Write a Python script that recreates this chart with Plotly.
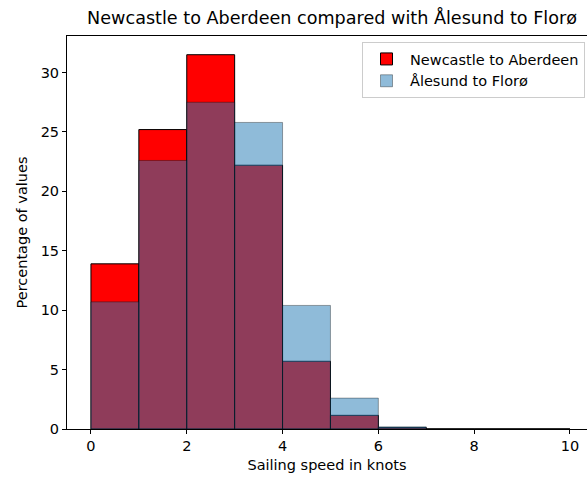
import plotly.graph_objects as go

# Histogram bins (knots) and percentage of values per bin
bin_edges = [0, 1, 2, 3, 4, 5, 6, 7, 8, 9, 10]
newcastle_aberdeen = [13.9, 25.2, 31.5, 22.2, 5.7, 1.15, 0.12, 0, 0, 0]
alesund_floro = [10.7, 22.6, 27.5, 25.8, 10.4, 2.6, 0.18, 0, 0, 0]

x_ticks = [0, 2, 4, 6, 8, 10]
y_ticks = [0, 5, 10, 15, 20, 25, 30]

centers = [(a + b) / 2 for a, b in zip(bin_edges[:-1], bin_edges[1:])]
widths = [b - a for a, b in zip(bin_edges[:-1], bin_edges[1:])]

FONT = "DejaVu Sans"
FS = 14.5

fig = go.Figure()
fig.add_trace(go.Bar(
    x=centers, y=newcastle_aberdeen, width=widths,
    name="Newcastle to Aberdeen",
    marker=dict(color="#ff0000", line=dict(color="black", width=1)),
))
fig.add_trace(go.Bar(
    x=centers, y=alesund_floro, width=widths,
    name="Ålesund to Florø",
    marker=dict(color="rgba(31,119,180,0.5)",
                line=dict(color="rgba(0,0,0,0.35)", width=1)),
))

ymax = max(max(newcastle_aberdeen), max(alesund_floro)) * 1.05

fig.update_layout(
    width=587, height=477,
    margin=dict(l=67, r=0, t=36, b=48),
    barmode="overlay",
    plot_bgcolor="white", paper_bgcolor="white",
    font=dict(family=FONT, size=FS, color="black"),
    title=dict(
        text="Newcastle to Aberdeen compared with Ålesund to Florø",
        x=332 / 587, xref="container", xanchor="center",
        y=1 - 18 / 477, yref="container", yanchor="middle",
        font=dict(family=FONT, size=17.6, color="black"),
    ),
    xaxis=dict(
        range=[-0.5, 10.356], tickvals=x_ticks,
        ticks="outside", ticklen=4, tickwidth=1, tickcolor="black",
        showline=True, linecolor="black", linewidth=1, mirror=True,
        showgrid=False, zeroline=False,
        title=dict(text="Sailing speed in knots", standoff=6,
                   font=dict(family=FONT, size=FS)),
    ),
    yaxis=dict(
        range=[0, ymax], tickvals=y_ticks,
        ticks="outside", ticklen=4, tickwidth=1, tickcolor="black",
        showline=True, linecolor="black", linewidth=1, mirror=False,
        showgrid=False, zeroline=False,
        title=dict(text="Percentage of values", standoff=9,
                   font=dict(family=FONT, size=FS)),
    ),
    legend=dict(
        x=(362 - 67) / 520, xanchor="left",
        y=1 - 6 / 393, yanchor="top",
        bgcolor="rgba(255,255,255,0.8)",
        bordercolor="#cccccc", borderwidth=1,
        font=dict(family=FONT, size=FS),
        tracegroupgap=0, itemwidth=37,
    ),
    showlegend=True,
)

fig.write_html("out.html")
